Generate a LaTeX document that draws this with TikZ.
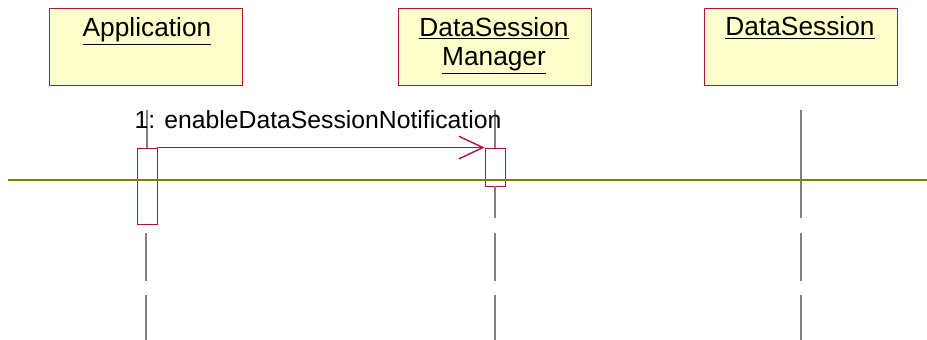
\documentclass[tikz,border=0pt]{standalone}
\usepackage{fontspec}
\setmainfont{Liberation Sans}
\usetikzlibrary{positioning,arrows.meta}
\definecolor{umlred}{RGB}{176,16,72}
\definecolor{umlfill}{RGB}{255,255,204}
\definecolor{sepcol}{RGB}{128,128,0}
\definecolor{lifecol}{RGB}{128,128,128}
\tikzset{
  objbox/.style={draw=umlred,fill=umlfill,line width=0.7pt,minimum width=4.8cm,minimum height=1.9cm,inner sep=0pt},
  objname/.style={font=\fontsize{18.7}{21.3}\selectfont,align=center,inner sep=0pt,anchor=base},
  actbox/.style={draw=umlred,fill=white,line width=0.6pt,minimum width=0.5cm,inner sep=0pt},
  lifeline/.style={draw=lifecol,line width=0.8pt},
  msg/.style={draw=umlred,line width=0.6pt,-{Straight Barb[length=17pt,width=16pt,line width=1pt]}},
}
\begin{document}
\begin{tikzpicture}[x=0.025cm,y=-0.025cm,line cap=butt]% 1 unit = 1 px
\useasboundingbox (0,0) rectangle (927,340);
% objects
\node[objbox] (app) at (146,47) {};
\node[objbox] (mgr) at (495,47) {};
\node[objbox] (ses) at (801,47) {};
\node[objname] (appname) at (147,37) {\underline{Application}};
\node[objname] (mgrname) at (494,66) {\underline{DataSession}\\\underline{Manager}};
\node[objname] (sesname) at (800,36) {\underline{DataSession}};
% activations
\node[actbox,minimum height=1.9cm] (act1) at (147,186) {};
\node[actbox,minimum height=0.95cm] (act2) at (495,167) {};
% lifelines
\draw[lifeline] (act1.north |- 0,110)--(act1.north) (act2.north |- 0,110)--(act2.north)
  (act2.south)--(act2.south |- 0,218) (ses.south |- 0,110)--(ses.south |- 0,218);
\foreach \n in {app,mgr,ses}{%lower pieces
  \draw[lifeline] (\n.south |- 0,233)--(\n.south |- 0,281) (\n.south |- 0,295)--(\n.south |- 0,340);}
% separator
\coordinate (sepl) at (8,180);
\coordinate (sepr) at (927,180);
\draw[sepcol,line width=1.1pt] (sepl)--(sepr);
% message
\draw[msg] (act1.north east)--(act2.north west);
\node[font=\fontsize{17.6}{20}\selectfont,anchor=base,inner sep=0pt] (msglabel) at (318,129) {1: enableDataSessionNotification};
\end{tikzpicture}
\end{document}
